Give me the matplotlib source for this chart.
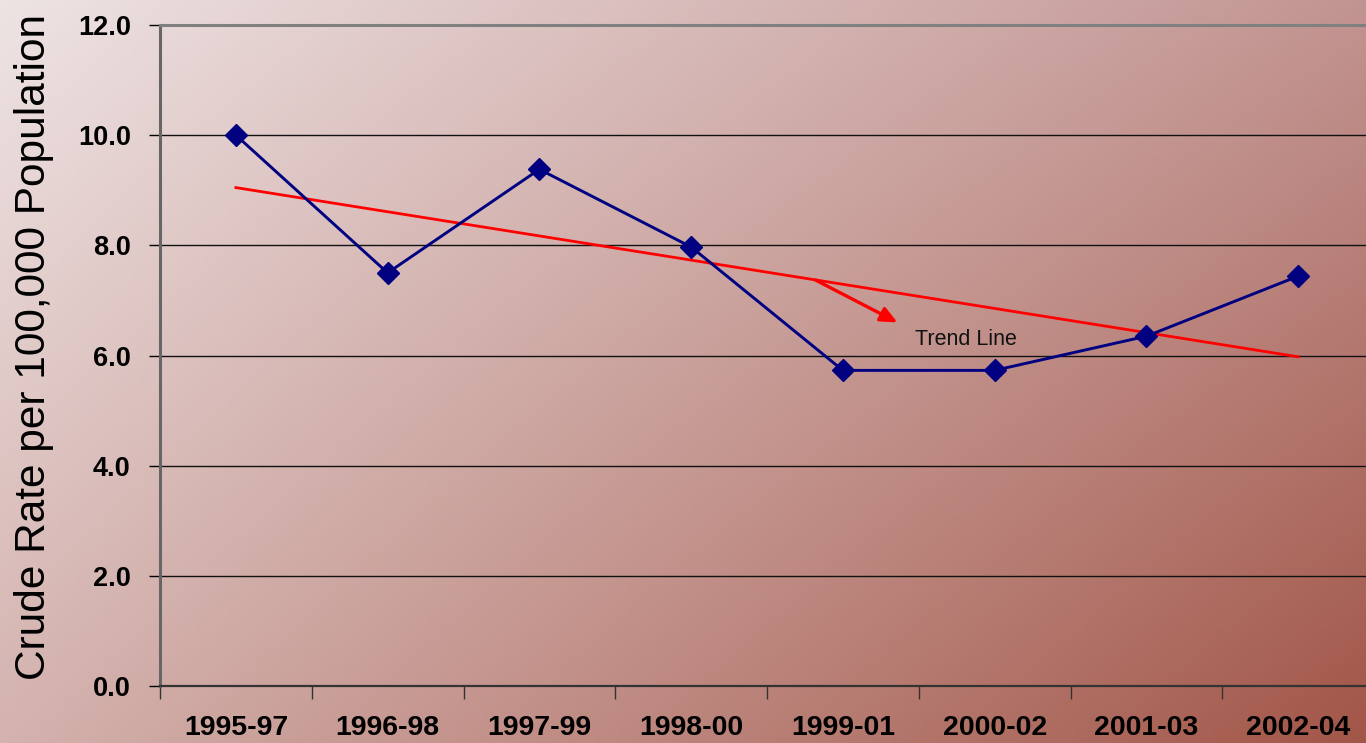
import numpy as np
import matplotlib
matplotlib.use("Agg")
import matplotlib.pyplot as plt
from matplotlib.ticker import FixedLocator

categories = ["1995-97", "1996-98", "1997-99", "1998-00", "1999-01", "2000-02", "2001-03", "2002-04"]
rates = [10.0, 7.5, 9.38, 7.97, 5.73, 5.73, 6.35, 7.44]
y_ticks = [0, 2, 4, 6, 8, 10, 12]
y_tick_labels = ["0.0", "2.0", "4.0", "6.0", "8.0", "10.0", "12.0"]

plt.rcParams['font.family'] = ['Liberation Sans', 'DejaVu Sans']

W, H = 1366, 743
fig = plt.figure(figsize=(W / 100, H / 100), dpi=100)

# background gradient
bg = fig.add_axes([0, 0, 1, 1], zorder=-10)
u = np.linspace(0, 1, 300)[None, :]
v = np.linspace(0, 1, 200)[:, None]
TL = np.array([238, 228, 228]) / 255
TR = np.array([194, 148, 145]) / 255
BL = np.array([212, 178, 174]) / 255
BR = np.array([162, 86, 72]) / 255
img = ((1 - u)[..., None] * (1 - v)[..., None] * TL + u[..., None] * (1 - v)[..., None] * TR
       + (1 - u)[..., None] * v[..., None] * BL + u[..., None] * v[..., None] * BR)
bg.imshow(img, aspect='auto', extent=[0, 1, 0, 1], origin='upper')
bg.axis('off')

left = 160 / W
bottom = (H - 686) / H
width = (1374 - 160) / W
height = (686 - 25) / H
ax = fig.add_axes([left, bottom, width, height])
ax.set_facecolor('none')

x = np.arange(len(categories))
ax.set_xlim(-0.5, len(categories) - 0.5)
ax.set_ylim(0, 12)

# gridlines
for yv in y_ticks[1:-1]:
    ax.axhline(yv, color='#111111', lw=1.0, zorder=1)

# trend line (least squares fit of the series)
coef = np.polyfit(x, rates, 1)
trend = np.polyval(coef, x)
ax.plot(x, trend, color='#ff0000', lw=2.0, zorder=2)

ax.plot(x, rates, color='#000080', lw=2.1, marker='D', markersize=11,
        markerfacecolor='#000080', markeredgecolor='#000080', zorder=3)

ax.annotate("", xy=(4.36, 6.6), xytext=(3.82, 7.37),
            arrowprops=dict(arrowstyle='-|>,head_length=1.0,head_width=0.45', color='#ff0000', lw=2.4,
                            shrinkA=0, shrinkB=0), zorder=4)
ax.text(4.475, 6.19, "Trend Line", fontsize=15.5, color='#111111', ha='left', va='baseline')

# spines
ax.spines['right'].set_visible(False)
ax.spines['top'].set_color('#808080')
ax.spines['top'].set_linewidth(2.2)
ax.spines['left'].set_color('#666666')
ax.spines['left'].set_linewidth(2.2)
ax.spines['bottom'].set_color('#333333')
ax.spines['bottom'].set_linewidth(1.6)

ax.set_yticks(y_ticks)
ax.set_yticklabels(y_tick_labels, fontsize=19.5, fontweight='bold')
ax.tick_params(axis='y', length=8, width=1, color='black', pad=13)

ax.set_xticks(x)
ax.set_xticklabels(categories, fontsize=20.5, fontweight='bold')
ax.tick_params(axis='x', which='major', length=0, pad=21)
ax.xaxis.set_minor_locator(FixedLocator(np.arange(-0.5, len(categories), 1.0)))
ax.tick_params(axis='x', which='minor', length=9, width=1, color='#333333')

ax.set_ylabel("Crude Rate per 100,000 Population", fontsize=30.5)
ax.yaxis.set_label_coords(-0.0873, 0.513)

fig.savefig("out.png", dpi=100)
